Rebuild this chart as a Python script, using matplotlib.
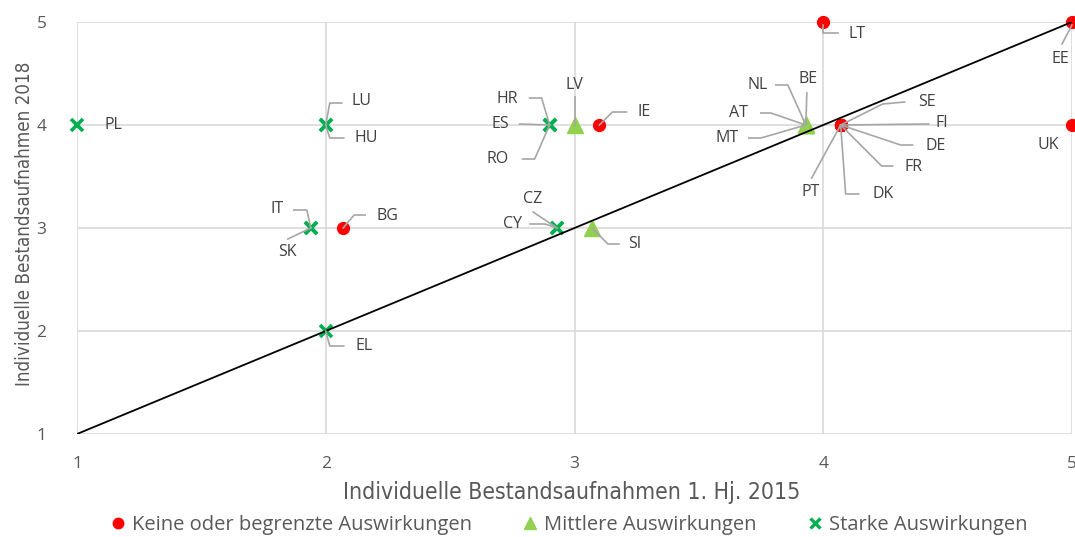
import matplotlib
matplotlib.use('Agg')
import matplotlib.pyplot as plt
import matplotlib.transforms as mtransforms
from matplotlib.lines import Line2D

# Data: individual assessments H1 2015 (x) vs 2018 (y)
keine_codes = ['LT', 'EE', 'IE', 'BG', 'UK', 'SE', 'FI', 'DE', 'FR', 'DK', 'PT']
keine_x = [4, 5, 3.1, 2.07, 5, 4.07, 4.07, 4.07, 4.07, 4.07, 4.07]
keine_y = [5, 5, 4, 3, 4, 4, 4, 4, 4, 4, 4]

mittlere_codes = ['LV', 'NL', 'BE', 'AT', 'MT', 'SI']
mittlere_x = [3, 3.93, 3.93, 3.93, 3.93, 3.07]
mittlere_y = [4, 4, 4, 4, 4, 3]

starke_codes = ['PL', 'LU', 'HU', 'HR', 'ES', 'RO', 'IT', 'SK', 'CZ', 'CY', 'EL']
starke_x = [1, 2, 2, 2.9, 2.9, 2.9, 1.94, 1.94, 2.93, 2.93, 2]
starke_y = [4, 4, 4, 4, 4, 4, 3, 3, 3, 3, 2]

legend_labels = ['Keine oder begrenzte Auswirkungen', 'Mittlere Auswirkungen',
                 'Starke Auswirkungen']
ticks = [1, 2, 3, 4, 5]

# label layout: text offset (px, y down) and leader polyline (px, y down)
layout = {
    'LT': ((34, 12), [(0, 3), (0, 11), (15, 11)]),
    'EE': ((-12, 37), [(0, 3), (-10, 22)]),
    'IE': ((45, -13), [(0, 0), (13, -13), (27, -13)]),
    'BG': ((44, -12), [(0, 0), (11, -13), (22, -13)]),
    'UK': ((-24, 20), None),
    'SE': ((86, -23), [(0, 0), (42, -21), (64, -23)]),
    'FI': ((101, -2), [(0, 0), (88, -1)]),
    'DE': ((95, 21), [(0, 0), (60, 20), (72, 20)]),
    'FR': ((73, 42), [(0, 0), (41, 41), (52, 41)]),
    'DK': ((42, 69), [(0, 0), (5, 69), (18, 69)]),
    'PT': ((-30, 67), [(0, 0), (-29, 53)]),
    'LV': ((0, -40), [(0, 0), (0, -28)]),
    'NL': ((-48, -40), [(0, 0), (-18, -40), (-30, -40)]),
    'BE': ((2, -46), [(0, 0), (1, -32)]),
    'AT': ((-67, -12), [(0, 0), (-35, -12), (-45, -12)]),
    'MT': ((-79, 13), [(0, 0), (-45, 13), (-57, 13)]),
    'SI': ((43, 16), [(0, 0), (16, 16), (27, 16)]),
    'PL': ((36, 0), None),
    'LU': ((36, -24), [(0, 0), (4, -22), (16, -22)]),
    'HU': ((41, 13), [(0, 0), (4, 13), (18, 13)]),
    'HR': ((-42, -26), [(0, 0), (-8, -27), (-20, -27)]),
    'ES': ((-49, -1), [(0, 0), (-30, -1)]),
    'RO': ((-52, 34), [(0, 0), (-15, 34), (-27, 34)]),
    'IT': ((-34, -19), [(0, 0), (-4, -18), (-17, -18)]),
    'SK': ((-23, 24), [(0, 0), (-23, 11)]),
    'CZ': ((-24, -29), [(0, 0), (-24, -16)]),
    'CY': ((-45, -4), [(0, 0), (-12, -4), (-27, -4)]),
    'EL': ((38, 15), [(0, 0), (4, 15), (18, 15)]),
}

label_font = ['Open Sans', 'DejaVu Sans']

fig = plt.figure(figsize=(10.75, 5.37), dpi=100)
ax = fig.add_axes([77 / 1075, 1 - 434 / 537, 995 / 1075, 412 / 537])

ax.plot(keine_x, keine_y, 'o', color='#ff0000', markersize=8.5, zorder=3, clip_on=False)
ax.plot(mittlere_x, mittlere_y, '^', color='#92d050', markersize=12, zorder=3, clip_on=False)
ax.plot(starke_x, starke_y, 'x', color='#00b050', markersize=9, mew=2.6, zorder=3,
        clip_on=False)
ax.plot([ticks[0], ticks[-1]], [ticks[0], ticks[-1]], color='black', lw=1.3, zorder=4)

ax.set_xlim(1, 5)
ax.set_ylim(1, 5)
ax.set_xticks(ticks)
ax.set_yticks(ticks)
ax.grid(True, color='#d9d9d9', lw=1.2)
ax.set_axisbelow(True)
for s in ax.spines.values():
    s.set_visible(False)
ax.tick_params(length=0, labelsize=12.5, labelcolor='#595959')
ax.tick_params(axis='x', pad=16)
ax.tick_params(axis='y', pad=22)
for t in ax.get_xticklabels() + ax.get_yticklabels():
    t.set_family(label_font)

ax.set_xlabel('Individuelle Bestandsaufnahmen 1. Hj. 2015', fontsize=16.5,
              color='#595959', family='DejaVu Sans', fontstretch='condensed')
ax.set_ylabel('Individuelle Bestandsaufnahmen 2018', fontsize=13.5,
              color='#595959', family='DejaVu Sans', fontstretch='condensed')
ax.xaxis.set_label_coords(0.497, -0.141)
ax.yaxis.set_label_coords(-0.053, 0.51)
ax.xaxis.label.set_va('center')
ax.yaxis.label.set_va('center')

flip = mtransforms.Affine2D().scale(1, -1)
for codes, xs, ys in [(keine_codes, keine_x, keine_y),
                      (mittlere_codes, mittlere_x, mittlere_y),
                      (starke_codes, starke_x, starke_y)]:
    for c, x, y in zip(codes, xs, ys):
        (dx, dy), leader = layout[c]
        ax.annotate(c, xy=(x, y), xytext=(dx, -dy), textcoords='offset pixels',
                    ha='center', va='center', fontsize=11.5, color='#404040',
                    family=label_font, annotation_clip=False, zorder=6)
        if leader:
            tr = flip + mtransforms.ScaledTranslation(x, y, ax.transData)
            ax.plot([p[0] for p in leader], [p[1] for p in leader],
                    color='#a6a6a6', lw=1.2, transform=tr, clip_on=False, zorder=5)

handles = [
    Line2D([], [], ls='none', marker='o', color='#ff0000', markersize=7.5),
    Line2D([], [], ls='none', marker='^', color='#92d050', markersize=8),
    Line2D([], [], ls='none', marker='x', color='#00b050', markersize=7, mew=2.4),
]
leg = fig.legend(handles, legend_labels, loc='center', bbox_to_anchor=(0.53, 0.022),
                 ncol=3, frameon=False, handlelength=0.6, handletextpad=0.4,
                 columnspacing=2.6, prop={'family': label_font, 'size': 14.5})
for t in leg.get_texts():
    t.set_color('#595959')

fig.savefig('out.png', dpi=100)
